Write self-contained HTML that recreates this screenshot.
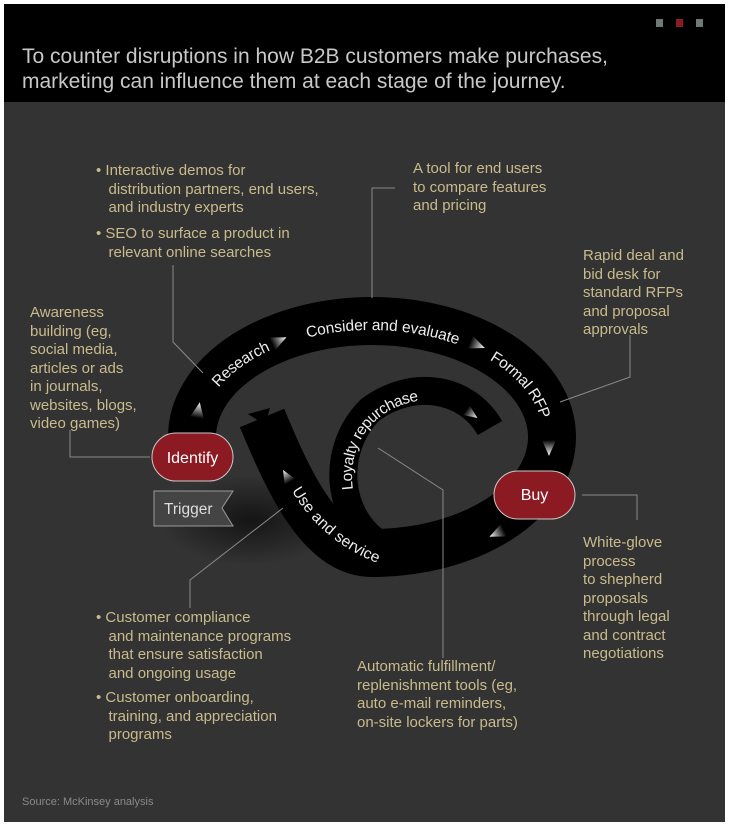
<!DOCTYPE html>
<html><head><meta charset="utf-8"><style>
html,body{margin:0;padding:0;background:#fff;}
#w{position:relative;width:730px;height:824px;overflow:hidden;background:#fff;font-family:"Liberation Sans",sans-serif;}
#hd{position:absolute;left:4px;top:4px;width:721px;height:98px;background:#000;}
#bd{position:absolute;left:4px;top:102px;width:721px;height:720px;background:#333;}
.t{position:absolute;color:#c9bb8c;font-size:15px;line-height:18.5px;}
</style></head><body><div id="w">
<div id="hd">
 <div style="position:absolute;left:652px;top:15px;width:7px;height:8px;background:#6f7a76"></div>
 <div style="position:absolute;left:672px;top:15px;width:7px;height:8px;background:#8b1a22"></div>
 <div style="position:absolute;left:692px;top:15px;width:7px;height:8px;background:#6f7a76"></div>
 <div style="position:absolute;left:18px;top:40px;color:#c8c8c8;font-size:21px;line-height:25px;">To counter disruptions in how B2B customers make purchases,<br>marketing can influence them at each stage of the journey.</div>
</div>
<div id="bd"></div>
<svg style="position:absolute;left:0;top:0" width="730" height="824">
<defs>
<linearGradient id="g" x1="0" y1="0" x2="1" y2="0"><stop offset="0" stop-color="#fff" stop-opacity="0"/><stop offset="1" stop-color="#fff"/></linearGradient>
<radialGradient id="sh" cx="0.5" cy="0.5" r="0.5"><stop offset="0" stop-color="#000" stop-opacity="0.6"/><stop offset="1" stop-color="#000" stop-opacity="0"/></radialGradient>
<path id="ep" d="M 194 437 A 177 112 0 0 1 548 437"/>
<path id="us" d="M 296 488 C 320 530 360 555 400 565"/>
<path id="lp" d="M 348 490 C 340 430 385 395 430 395 C 455 396 470 400 480 408"/>
</defs>
<ellipse cx="250" cy="520" rx="90" ry="45" fill="url(#sh)"/>
<g fill="none" stroke="#000" stroke-linecap="butt">
<path d="M 192 470 L 192 437 A 180 116 0 0 1 552 437 A 180 116 0 0 1 372 553 C 320 553 288 480 262 418" stroke-width="48"/>
<path d="M 385 548 C 335 520 330 450 370 410 C 410 380 465 385 490 428" stroke-width="28"/>
</g>
<polygon points="248,414 270,408 265,425" fill="#000"/>
<g stroke="#8a8a8a" stroke-width="1" fill="none">
<polyline points="173,265 173,342 203,373"/>
<polyline points="395,188 372,188 372,298"/>
<polyline points="630,335 630,377 560,402"/>
<polyline points="70,430 70,457 150,457"/>
<polyline points="582,495 637,495 637,520"/>
<polyline points="378,448 443,490 443,658"/>
<polyline points="283,508 190,580 190,608"/>
</g>
<g fill="url(#g)">
<polygon points="0,-7 16,0 0,7" transform="translate(197,418) rotate(-80)"/>
<polygon points="0,-7 16,0 0,7" transform="translate(272,344) rotate(-25)"/>
<polygon points="0,-7 16,0 0,7" transform="translate(470,342) rotate(22)"/>
<polygon points="0,-7 16,0 0,7" transform="translate(549,440) rotate(90)"/>
<polygon points="0,-7 16,0 0,7" transform="translate(504,530) rotate(155)"/>
<polygon points="0,-6 14,0 0,6" transform="translate(290,482) rotate(-120)"/>
<polygon points="0,-6 14,0 0,6" transform="translate(466,410) rotate(35)"/>
</g>
<g fill="#eee" font-family="Liberation Sans,sans-serif" font-size="15.5">
<text dy="5"><textPath href="#ep" startOffset="58">Research</textPath></text>
<text dy="5" text-anchor="middle"><textPath href="#ep" startOffset="242">Consider and evaluate</textPath></text>
<text dy="5" text-anchor="middle"><textPath href="#ep" startOffset="398">Formal RFP</textPath></text>
<text dy="5"><textPath href="#us" startOffset="0">Use and service</textPath></text>
<text dy="5"><textPath href="#lp" startOffset="0">Loyalty repurchase</textPath></text>
</g>
<rect x="152" y="433" width="81" height="48" rx="24" fill="#8b1a22" stroke="#c9c9c9" stroke-width="1"/>
<text x="192.5" y="463" fill="#fff" font-family="Liberation Sans,sans-serif" font-size="16" text-anchor="middle">Identify</text>
<rect x="494" y="471" width="81" height="48" rx="24" fill="#8b1a22" stroke="#c9c9c9" stroke-width="1"/>
<text x="534.5" y="500" fill="#fff" font-family="Liberation Sans,sans-serif" font-size="16" text-anchor="middle">Buy</text>
<polygon points="154,491 233,491 222,508 233,526 154,526" fill="#444" stroke="#9a9a9a" stroke-width="1"/>
<text x="164" y="514" fill="#ddd" font-family="Liberation Sans,sans-serif" font-size="15.5">Trigger</text>
</svg>
<div class="t" style="left:96px;top:162px;">•&nbsp;Interactive demos for<br>&nbsp;&nbsp;&nbsp;distribution partners, end users,<br>&nbsp;&nbsp;&nbsp;and industry experts</div>
<div class="t" style="left:96px;top:225px;">•&nbsp;SEO to surface a product in<br>&nbsp;&nbsp;&nbsp;relevant online searches</div>
<div class="t" style="left:413px;top:160px;">A tool for end users<br>to compare features<br>and pricing</div>
<div class="t" style="left:583px;top:247px;">Rapid deal and<br>bid desk for<br>standard RFPs<br>and proposal<br>approvals</div>
<div class="t" style="left:30px;top:304px;">Awareness<br>building (eg,<br>social media,<br>articles or ads<br>in journals,<br>websites, blogs,<br>video games)</div>
<div class="t" style="left:583px;top:534px;">White-glove<br>process<br>to shepherd<br>proposals<br>through legal<br>and contract<br>negotiations</div>
<div class="t" style="left:96px;top:609px;">•&nbsp;Customer compliance<br>&nbsp;&nbsp;&nbsp;and maintenance programs<br>&nbsp;&nbsp;&nbsp;that ensure satisfaction<br>&nbsp;&nbsp;&nbsp;and ongoing usage</div>
<div class="t" style="left:96px;top:689px;">•&nbsp;Customer onboarding,<br>&nbsp;&nbsp;&nbsp;training, and appreciation<br>&nbsp;&nbsp;&nbsp;programs</div>
<div class="t" style="left:357px;top:658px;">Automatic fulfillment/<br>replenishment tools (eg,<br>auto e-mail reminders,<br>on-site lockers for parts)</div>
<div style="position:absolute;left:22px;top:796px;color:#8a8a8a;font-size:11px;">Source: McKinsey analysis</div>
</div></body></html>
